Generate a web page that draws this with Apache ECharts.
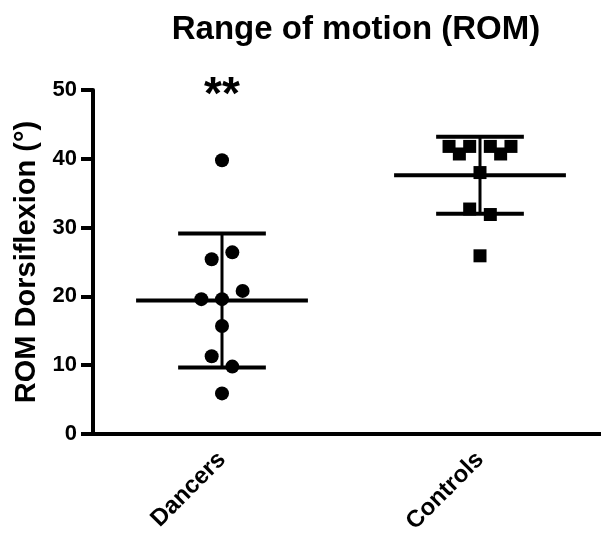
<!DOCTYPE html>
<html lang="en">
<head>
    <meta charset="UTF-8">
    <title>Range of motion (ROM)</title>
    <script src="https://cdn.jsdelivr.net/npm/echarts@6/dist/echarts.min.js"></script>
</head>
<body style="margin:0;background:#fff;">
<div id="main" style="width: 601px;height:540px;"></div>
<script type="text/javascript">
    // groups and values
    var categories = ['Dancers', 'Controls'];
    var dancers = [39.8, 26.4, 25.4, 20.8, 19.6, 19.6, 15.7, 11.3, 9.8, 5.9];
    var dancersJitter = [0, 0.04, -0.04, 0.08, -0.08, 0, 0, -0.04, 0.04, 0];
    var controls = [41.8, 40.7, 41.8, 41.8, 40.7, 41.8, 38.0, 32.7, 31.9, 25.9];
    var controlsJitter = [-0.12, -0.08, -0.04, 0.04, 0.08, 0.12, 0, -0.04, 0.04, 0];
    var means = [19.4, 37.6];
    var sds = [9.75, 5.6];
    var yTicks = [0, 10, 20, 30, 40, 50];
    var star = '**';

    var font = 'Liberation Sans, Arial, sans-serif';

    function points(vals, jit, pos) {
        var out = [];
        for (var i = 0; i < vals.length; i++) {
            out.push([pos + jit[i], vals[i]]);
        }
        return out;
    }

    var errData = [];
    for (var i = 0; i < categories.length; i++) {
        errData.push([i + 1, means[i], means[i] - sds[i], means[i] + sds[i]]);
    }

    var dom = document.getElementById('main');
    var myChart = echarts.init(dom);
    var option = {
        animation: false,
        backgroundColor: '#fff',
        title: {
            text: 'Range of motion (ROM)',
            left: 351,
            textAlign: 'center',
            top: 8,
            textStyle: {fontFamily: font, fontSize: 33, fontWeight: 'bold', color: '#000'}
        },
        grid: {left: 93, top: 90, bottom: 106, width: 516, outerBoundsMode: 'none', containLabel: false},
        xAxis: [{
            type: 'category',
            data: categories,
            axisLine: {lineStyle: {color: '#000', width: 4}},
            axisTick: {alignWithLabel: true, length: 12, lineStyle: {width: 4}},
            axisLabel: {rotate: 45, margin: 22, color: '#000', fontFamily: font, fontSize: 24, fontWeight: 'bold'},
            splitLine: {show: false}
        }, {
            type: 'value',
            min: 0.5,
            max: 2.5,
            show: false
        }],
        yAxis: {
            type: 'value',
            min: yTicks[0],
            max: yTicks[yTicks.length - 1],
            interval: 10,
            name: 'ROM Dorsiflexion (°)',
            nameLocation: 'middle',
            nameGap: 52,
            nameTextStyle: {fontFamily: font, fontSize: 29, fontWeight: 'bold', color: '#000'},
            axisLine: {show: true, lineStyle: {color: '#000', width: 4}},
            axisTick: {show: true, length: 12, lineStyle: {width: 4}},
            axisLabel: {margin: 16, color: '#000', fontFamily: font, fontSize: 22, fontWeight: 'bold'},
            splitLine: {show: false}
        },
        series: [{
            type: 'custom',
            xAxisIndex: 1,
            data: errData,
            renderItem: function (params, api) {
                var x = api.value(0);
                var m = api.coord([x, api.value(1)]);
                var lo = api.coord([x, api.value(2)]);
                var hi = api.coord([x, api.value(3)]);
                var mL = api.coord([x - 0.333, api.value(1)]);
                var mR = api.coord([x + 0.333, api.value(1)]);
                var cw = api.size([0.17, 0])[0];
                var st = {stroke: '#000', lineWidth: 4};
                return {
                    type: 'group',
                    children: [
                        {type: 'line', shape: {x1: mL[0], y1: m[1], x2: mR[0], y2: m[1]}, style: st},
                        {type: 'line', shape: {x1: lo[0], y1: lo[1], x2: hi[0], y2: hi[1]}, style: {stroke: '#000', lineWidth: 3}},
                        {type: 'line', shape: {x1: lo[0] - cw, y1: lo[1], x2: lo[0] + cw, y2: lo[1]}, style: st},
                        {type: 'line', shape: {x1: hi[0] - cw, y1: hi[1], x2: hi[0] + cw, y2: hi[1]}, style: st}
                    ]
                };
            },
            z: 2
        }, {
            type: 'scatter',
            xAxisIndex: 1,
            symbol: 'circle',
            symbolSize: 14,
            itemStyle: {color: '#000', opacity: 1},
            data: points(dancers, dancersJitter, 1),
            z: 3
        }, {
            type: 'scatter',
            xAxisIndex: 1,
            symbol: 'rect',
            symbolSize: 13,
            itemStyle: {color: '#000', opacity: 1},
            data: points(controls, controlsJitter, 2),
            z: 3
        }, {
            type: 'scatter',
            xAxisIndex: 1,
            clip: false,
            symbolSize: 0,
            itemStyle: {color: '#000', opacity: 1},
            data: [[1, 49.1]],
            label: {
                show: true,
                position: 'inside',
                formatter: star,
                color: '#000',
                opacity: 1,
                fontFamily: font,
                fontSize: 46,
                fontWeight: 'bold'
            },
            z: 4
        }]
    };
    myChart.setOption(option);
</script>
</body>
</html>
